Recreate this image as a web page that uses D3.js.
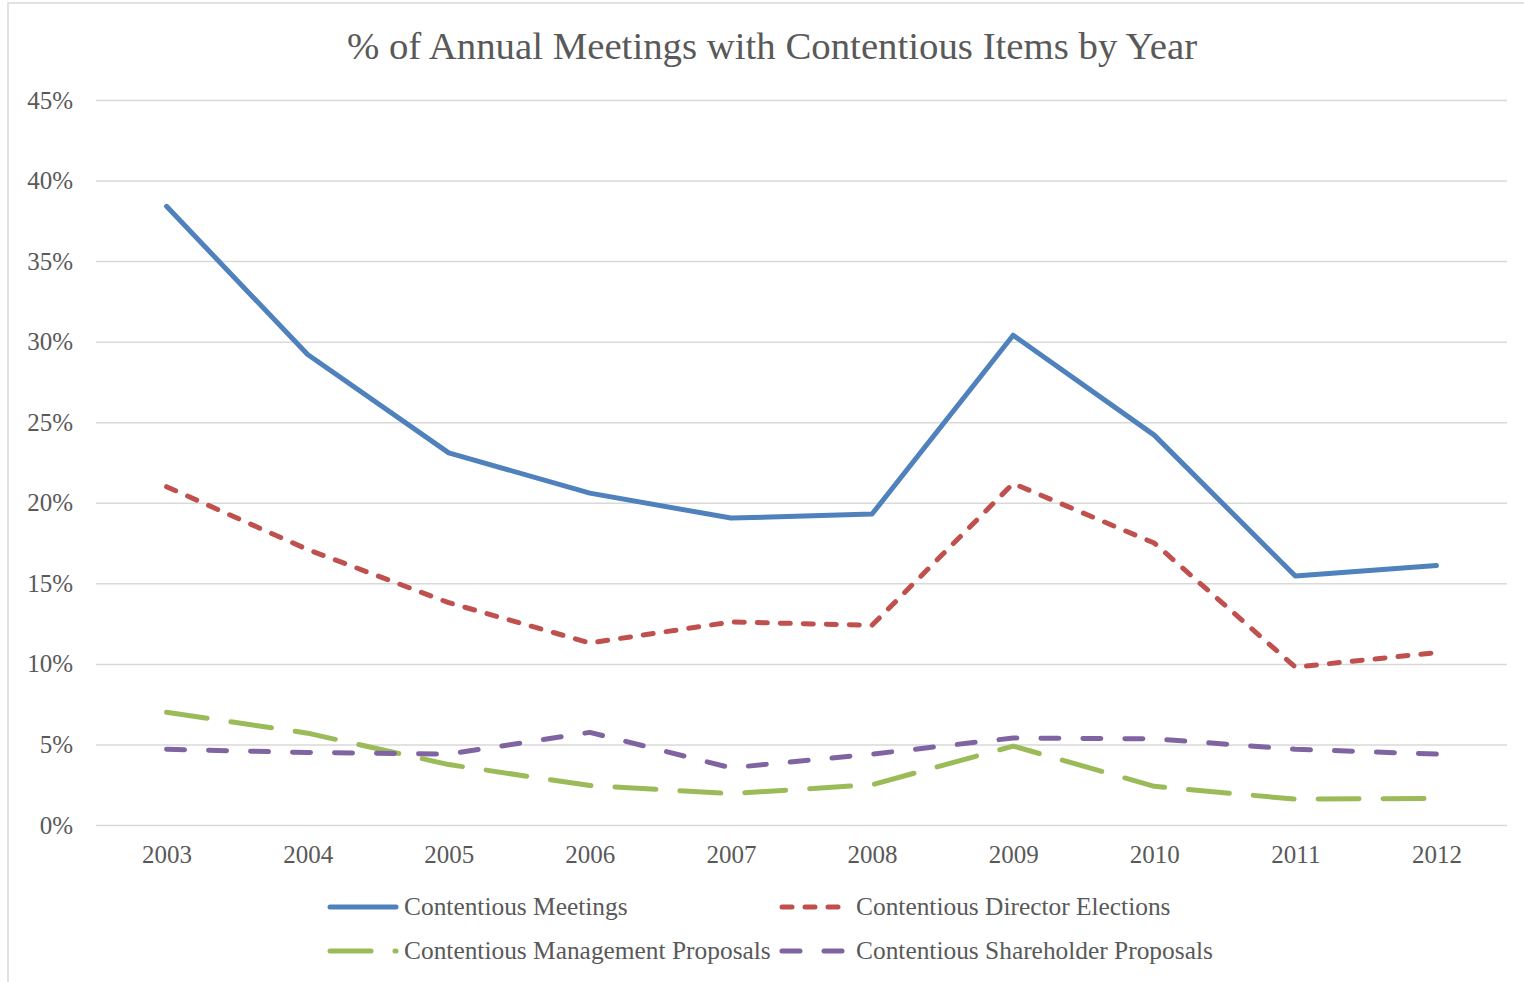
<!DOCTYPE html>
<html>
<head>
<meta charset="utf-8">
<script src="https://cdn.jsdelivr.net/npm/d3@7"></script>
<style>
  body { margin: 0; background: #fff; }
  svg text { font-family: "Liberation Serif", "Times New Roman", serif; fill: #595959; }
</style>
</head>
<body>
<div id="vis"></div>
<script>
const WIDTH = 1524;
const HEIGHT = 982;

// datos (porcentajes)
const YEARS = ["2003", "2004", "2005", "2006", "2007", "2008", "2009", "2010", "2011", "2012"];
const MEETINGS = [38.4, 29.2, 23.1, 20.6, 19.05, 19.3, 30.4, 24.2, 15.45, 16.1];
const DIRECTOR = [21.0, 17.1, 13.8, 11.3, 12.6, 12.4, 21.2, 17.5, 9.8, 10.7];
const MANAGEMENT = [7.0, 5.7, 3.75, 2.45, 1.95, 2.5, 4.9, 2.4, 1.6, 1.65];
const SHAREHOLDER = [4.7, 4.5, 4.4, 5.75, 3.55, 4.4, 5.4, 5.35, 4.7, 4.4];
const Y_TICKS = [0, 5, 10, 15, 20, 25, 30, 35, 40, 45];
const SERIES_NAMES = ["Contentious Meetings", "Contentious Director Elections",
  "Contentious Management Proposals", "Contentious Shareholder Proposals"];

const series = [
  { name: SERIES_NAMES[0], values: MEETINGS, color: "#4F81BD", dash: null },
  { name: SERIES_NAMES[1], values: DIRECTOR, color: "#C0504D", dash: "10,13" },
  { name: SERIES_NAMES[2], values: MANAGEMENT, color: "#9BBB59", dash: "41,24" },
  { name: SERIES_NAMES[3], values: SHAREHOLDER, color: "#8064A2", dash: "18,24" }
];

const SVG = d3.select("#vis").append("svg")
  .attr("width", WIDTH).attr("height", HEIGHT);

// borde del area del grafico
SVG.append("rect")
  .attr("x", 8).attr("y", 3)
  .attr("width", WIDTH + 20).attr("height", HEIGHT + 20)
  .attr("fill", "none").attr("stroke", "#D9D9D9").attr("stroke-width", 1.5);

const x = d3.scalePoint().domain(YEARS).range([96, 1507]).padding(0.5);
const y = d3.scaleLinear().domain([0, 45]).range([825, 100]);

// grilla + eje y
const yAxis = d3.axisLeft(y)
  .tickValues(Y_TICKS)
  .tickSize(-(1507 - 96))
  .tickPadding(23)
  .tickFormat(d => d + "%");

const gy = SVG.append("g").attr("transform", "translate(96,0)").call(yAxis);
gy.select(".domain").remove();
gy.selectAll(".tick line").attr("stroke", "#D9D9D9").attr("stroke-width", 1.5);
gy.selectAll(".tick text")
  .style("font-size", "25px")
  .attr("fill", "#595959")
  .attr("dy", "0.32em");

// eje x
const xAxis = d3.axisBottom(x).tickSize(0).tickPadding(20);
const gx = SVG.append("g").attr("transform", "translate(0,825)").call(xAxis);
gx.select(".domain").remove();
gx.selectAll(".tick text")
  .style("font-size", "25px")
  .attr("fill", "#595959")
  .attr("dy", "0.71em");

// lineas
const linea = d3.line()
  .x((d, i) => x(YEARS[i]))
  .y(d => y(d));

SVG.selectAll("path.serie")
  .data(series)
  .join("path")
  .attr("class", "serie")
  .attr("d", d => linea(d.values))
  .attr("fill", "none")
  .attr("stroke", d => d.color)
  .attr("stroke-width", 5)
  .attr("stroke-linecap", "round")
  .attr("stroke-linejoin", "round")
  .attr("stroke-dasharray", d => d.dash);

// titulo
SVG.append("text")
  .attr("x", 772)
  .attr("y", 59)
  .attr("text-anchor", "middle")
  .style("font-size", "38.8px")
  .text("% of Annual Meetings with Contentious Items by Year");

// leyenda
const legendPos = [
  { x: 328, y: 907 }, { x: 780, y: 907 },
  { x: 328, y: 951 }, { x: 780, y: 951 }
];

const leg = SVG.selectAll("g.leyenda")
  .data(series)
  .join("g")
  .attr("class", "leyenda")
  .attr("transform", (d, i) => `translate(${legendPos[i].x}, ${legendPos[i].y})`);

leg.append("line")
  .attr("x1", 2).attr("x2", 68)
  .attr("y1", 0).attr("y2", 0)
  .attr("stroke", d => d.color)
  .attr("stroke-width", 5)
  .attr("stroke-linecap", "round")
  .attr("stroke-dasharray", d => d.dash);

leg.append("text")
  .attr("x", 76)
  .attr("y", 0)
  .attr("dy", "0.32em")
  .style("font-size", "25.4px")
  .text(d => d.name);
</script>
</body>
</html>
